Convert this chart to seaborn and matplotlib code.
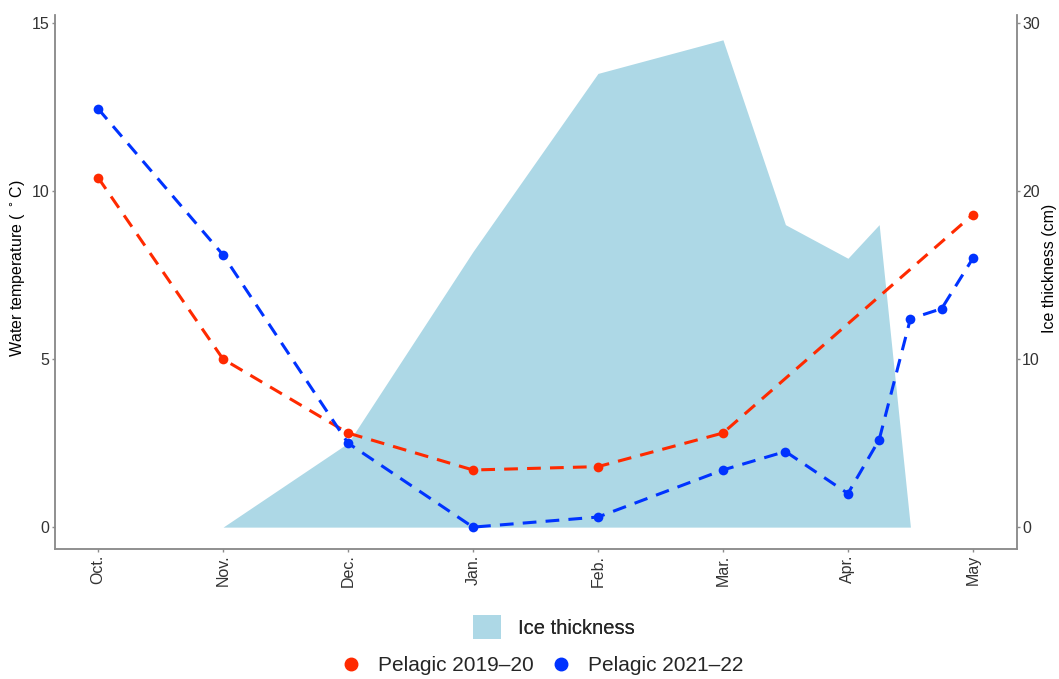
import matplotlib
matplotlib.use("Agg")
import matplotlib.pyplot as plt
import seaborn as sns
import pandas as pd
from matplotlib.patches import Patch
from matplotlib.lines import Line2D

# ---- data (x in months since 1 Oct; Oct.=0 ... May=7) ----
month_labels = ["Oct.", "Nov.", "Dec.", "Jan.", "Feb.", "Mar.", "Apr.", "May"]
month_ticks = [0, 1, 2, 3, 4, 5, 6, 7]

x_2019 = [0, 1, 2, 3, 4, 5, 7]
temp_2019 = [10.4, 5.0, 2.8, 1.7, 1.8, 2.8, 9.3]

x_2021 = [0, 1, 2, 3, 4, 5, 5.5, 6, 6.25, 6.5, 6.75, 7]
temp_2021 = [12.45, 8.1, 2.5, 0.0, 0.3, 1.7, 2.25, 1.0, 2.6, 6.2, 6.5, 8.0]

x_ice = [1, 2, 3, 4, 5, 5.5, 6, 6.25, 6.5]
ice_cm = [0, 5.0, 16.4, 27.0, 29.0, 18.0, 16.0, 18.0, 0]

red = "#FF2A00"
blue = "#0033FF"
ice_col = "#ADD8E6"

df19 = pd.DataFrame({"x": x_2019, "temp": temp_2019})
df21 = pd.DataFrame({"x": x_2021, "temp": temp_2021})
dfice = pd.DataFrame({"x": x_ice, "ice": ice_cm})

sns.set_theme(style="white")
plt.rcParams["font.family"] = ["Liberation Sans", "DejaVu Sans"]

fig = plt.figure(figsize=(10.59, 6.79), dpi=100)
ax = fig.add_axes([0.052, 0.1915, 0.908, 0.7865])
ax2 = ax.twinx()

# ice thickness area on secondary axis (drawn underneath)
ax2.fill_between(dfice["x"], 0, dfice["ice"], color=ice_col, linewidth=0)
ax2.set_ylim(-1.3, 30.48)
ax2.set_yticks([0, 10, 20, 30])

# temperature lines on primary axis
ax.set_zorder(ax2.get_zorder() + 1)
ax.patch.set_visible(False)
dash = (0, (4.5, 3))
sns.lineplot(data=df19, x="x", y="temp", ax=ax, color=red, linewidth=2.2,
             linestyle=dash, marker="o", markersize=7, markeredgewidth=0)
sns.lineplot(data=df21, x="x", y="temp", ax=ax, color=blue, linewidth=2.2,
             linestyle=dash, marker="o", markersize=7, markeredgewidth=0)

ax.set_xlim(-0.344, 7.35)
ax.set_ylim(-0.65, 15.24)
ax.set_yticks([0, 5, 10, 15])
ax.set_xticks(month_ticks)
ax.set_xticklabels(month_labels, rotation=90)
ax.set_xlabel("")
ax.set_ylabel("Water temperature ( $^\\circ$C)", fontsize=11.5, color="black")
ax2.set_ylabel("Ice thickness (cm)", fontsize=11.5, color="black")
ax.yaxis.set_label_coords(-0.029, 0.526)
ax2.yaxis.set_label_coords(1.026, 0.526)

spine_col = "#8C8C8C"
for a in (ax, ax2):
    a.spines["top"].set_visible(False)
    for s in ("left", "right", "bottom"):
        a.spines[s].set_color(spine_col)
        a.spines[s].set_linewidth(1.1)
    a.tick_params(axis="both", colors=spine_col, labelcolor="#333333",
                  labelsize=11.5, length=2, width=1, direction="out", pad=2)
ax.tick_params(left=True, bottom=True)
ax2.tick_params(right=True)
ax.grid(False)
ax2.grid(False)

# legends below plot
leg1 = fig.legend(handles=[Patch(facecolor=ice_col, edgecolor="none", label="Ice thickness")],
                  loc="center", bbox_to_anchor=(0.523, 0.076), frameon=False,
                  fontsize=14.5, handlelength=1.35, handleheight=1.45, handletextpad=0.85)
fig.add_artist(leg1)
handles = [Line2D([], [], color=red, marker="o", linestyle="none", markersize=9, label="Pelagic 2019–20"),
           Line2D([], [], color=blue, marker="o", linestyle="none", markersize=9, label="Pelagic 2021–22")]
fig.legend(handles=handles, loc="center", bbox_to_anchor=(0.512, 0.02), ncol=2,
           frameon=False, fontsize=15, handlelength=1.0, handletextpad=0.8, columnspacing=0.8)

fig.savefig("out.png", dpi=100)
